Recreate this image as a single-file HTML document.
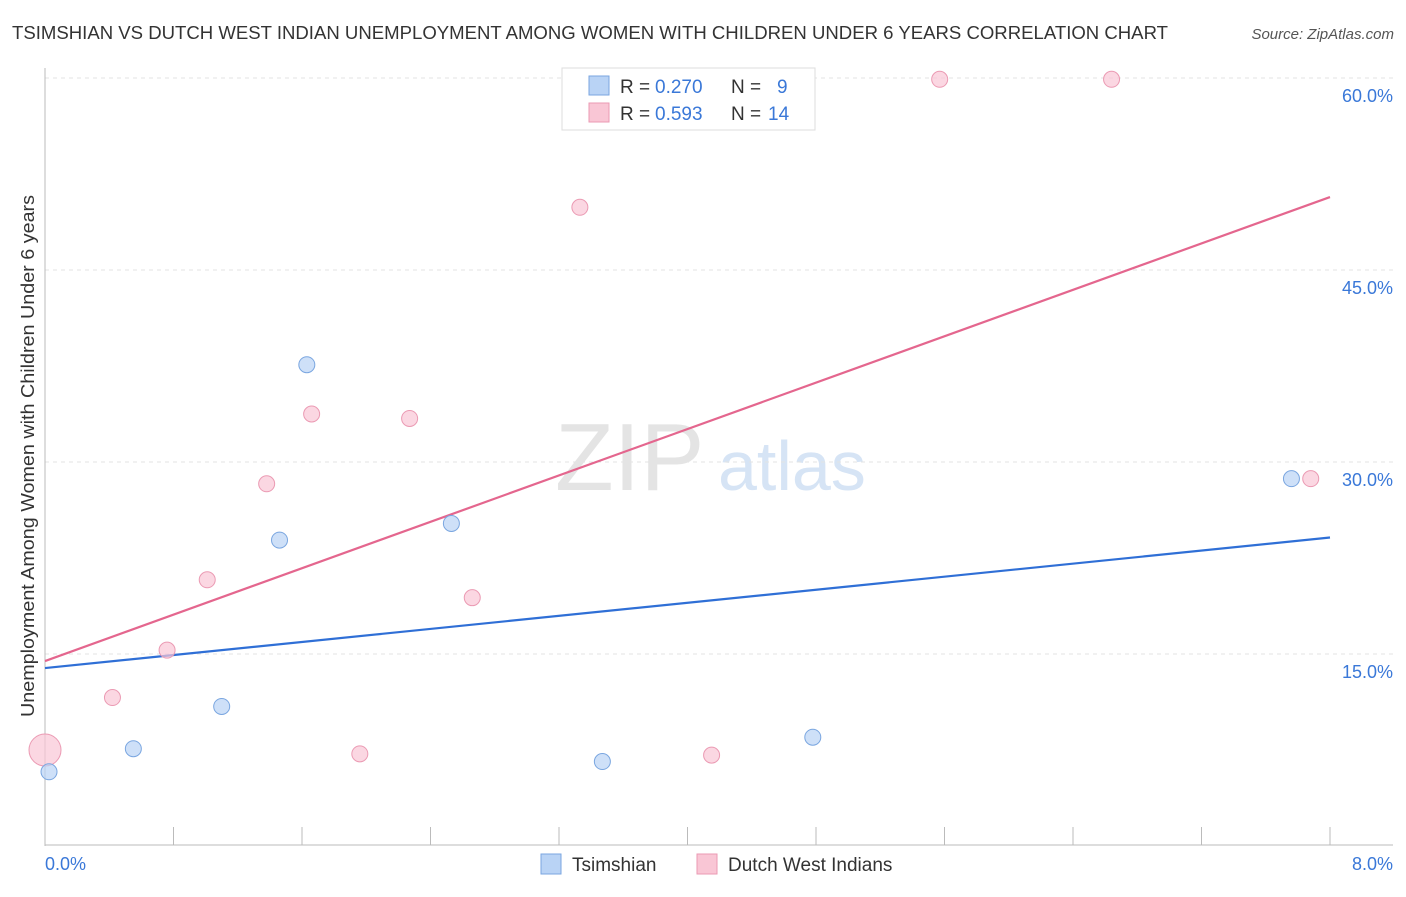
<!DOCTYPE html>
<html><head><meta charset="utf-8"><style>
body{margin:0;background:#fff;font-family:"Liberation Sans",sans-serif;}
svg text{font-family:"Liberation Sans",sans-serif;}
</style></head><body>
<svg id="c" width="1406" height="892">
<text x="12" y="39" font-size="18.5" fill="#333" textLength="1156" lengthAdjust="spacingAndGlyphs">TSIMSHIAN VS DUTCH WEST INDIAN UNEMPLOYMENT AMONG WOMEN WITH CHILDREN UNDER 6 YEARS CORRELATION CHART</text>
<text x="1394" y="39" font-size="15" fill="#555" font-style="italic" text-anchor="end">Source: ZipAtlas.com</text>
<text transform="translate(34,717) rotate(-90)" font-size="18" fill="#333" textLength="522" lengthAdjust="spacingAndGlyphs">Unemployment Among Women with Children Under 6 years</text>
<text x="555" y="490" font-size="96" fill="#e4e4e4" font-family="Liberation Serif">ZIP</text>
<text x="718" y="490" font-size="70" fill="#d6e4f5">atlas</text>
<g id="grid"></g><g id="axes"></g><g id="lines"></g><g id="pts"></g>
<g>
<rect x="562" y="68" width="253" height="62" fill="#fff" stroke="#ddd"/>
<rect x="589" y="76" width="20" height="19" fill="#b9d3f5" stroke="#7aa6e0"/>
<rect x="589" y="103" width="20" height="19" fill="#f9c6d5" stroke="#eb9ab3"/>
<text x="620" y="93" font-size="19" fill="#333">R =</text>
<text x="655" y="93" font-size="19" fill="#3a78d8">0.270</text>
<text x="731" y="93" font-size="19" fill="#333">N =</text>
<text x="777" y="93" font-size="19" fill="#3a78d8">9</text>
<text x="620" y="120" font-size="19" fill="#333">R =</text>
<text x="655" y="120" font-size="19" fill="#3a78d8">0.593</text>
<text x="731" y="120" font-size="19" fill="#333">N =</text>
<text x="768" y="120" font-size="19" fill="#3a78d8">14</text>
</g>
<g>
<rect x="541" y="854" width="20" height="20" fill="#b9d3f5" stroke="#7aa6e0"/>
<text x="572" y="871" font-size="19" fill="#333">Tsimshian</text>
<rect x="697" y="854" width="20" height="20" fill="#f9c6d5" stroke="#eb9ab3"/>
<text x="728" y="871" font-size="19" fill="#333">Dutch West Indians</text>
</g>
</svg>
<script>
const yTicks=[15,30,45,60];
const xTickLabels=["0.0%","8.0%"];
const tsX=[0.025,0.55,1.10,1.46,1.63,2.53,3.47,4.78,7.76];
const tsY=[5.8,7.6,10.9,23.9,37.6,25.2,6.6,8.5,28.7];
const dwX=[0.0,0.42,0.76,1.01,1.38,1.66,2.27,2.66,3.33,1.96,4.15,5.57,6.64,7.88];
const dwY=[7.5,11.6,15.3,20.8,28.3,33.75,33.4,19.4,49.9,7.2,7.1,59.9,59.9,28.7];
const dwR=[16,8,8,8,8,8,8,8,8,8,8,8,8,8];
const tsLine=[13.9,24.1];
const dwLine=[14.45,50.7];
const NS="http://www.w3.org/2000/svg";
const X=v=>45+v*(1330-45)/8;
const Y=v=>846-v*12.8;
function mk(p,t,a){const e=document.createElementNS(NS,t);for(const k in a)e.setAttribute(k,a[k]);document.getElementById(p).appendChild(e);return e;}
yTicks.forEach(t=>{
 const l=mk('grid','line',{x1:45,x2:1393,y1:Y(t),y2:Y(t),stroke:'#e3e3e3','stroke-dasharray':'4,4'});
 
 
 const tx=mk('grid','text',{x:1393,y:Y(t)+24,'font-size':18,fill:'#3a78d8','text-anchor':'end'});
 tx.textContent=t.toFixed(1)+'%';
 
 
});
mk('axes','line',{x1:45,x2:45,y1:68,y2:846,stroke:'#bbb'});
mk('axes','line',{x1:45,x2:1393,y1:845,y2:845,stroke:'#bbb'});
for(let i=1;i<=10;i++){const t=mk('axes','line',{x1:X(i*0.8),x2:X(i*0.8),y1:827,y2:845,stroke:'#bbb'});
 
 }
[[0,'start'],[8,'end']].forEach((p,i)=>{const t=mk('axes','text',{x:p[0]===0?45:1393,y:870,'font-size':18,fill:'#3a78d8','text-anchor':p[1]});t.textContent=xTickLabels[i];
 
 });
const bl=mk('lines','line',{x1:X(0),x2:X(8),y1:Y(tsLine[0]),y2:Y(tsLine[1]),stroke:'#2f6fd6','stroke-width':2.2});


const pl=mk('lines','line',{x1:X(0),x2:X(8),y1:Y(dwLine[0]),y2:Y(dwLine[1]),stroke:'#e4668e','stroke-width':2.2});


dwX.forEach((v,i)=>{const c=mk('pts','circle',{cx:X(v),cy:Y(dwY[i]),r:dwR[i],fill:'#f9c6d5','fill-opacity':0.7,stroke:'#eb9ab3'});
 
 });
tsX.forEach((v,i)=>{const c=mk('pts','circle',{cx:X(v),cy:Y(tsY[i]),r:8,fill:'#b9d3f5','fill-opacity':0.7,stroke:'#7aa6e0'});
 
 });
</script>
</body></html>
